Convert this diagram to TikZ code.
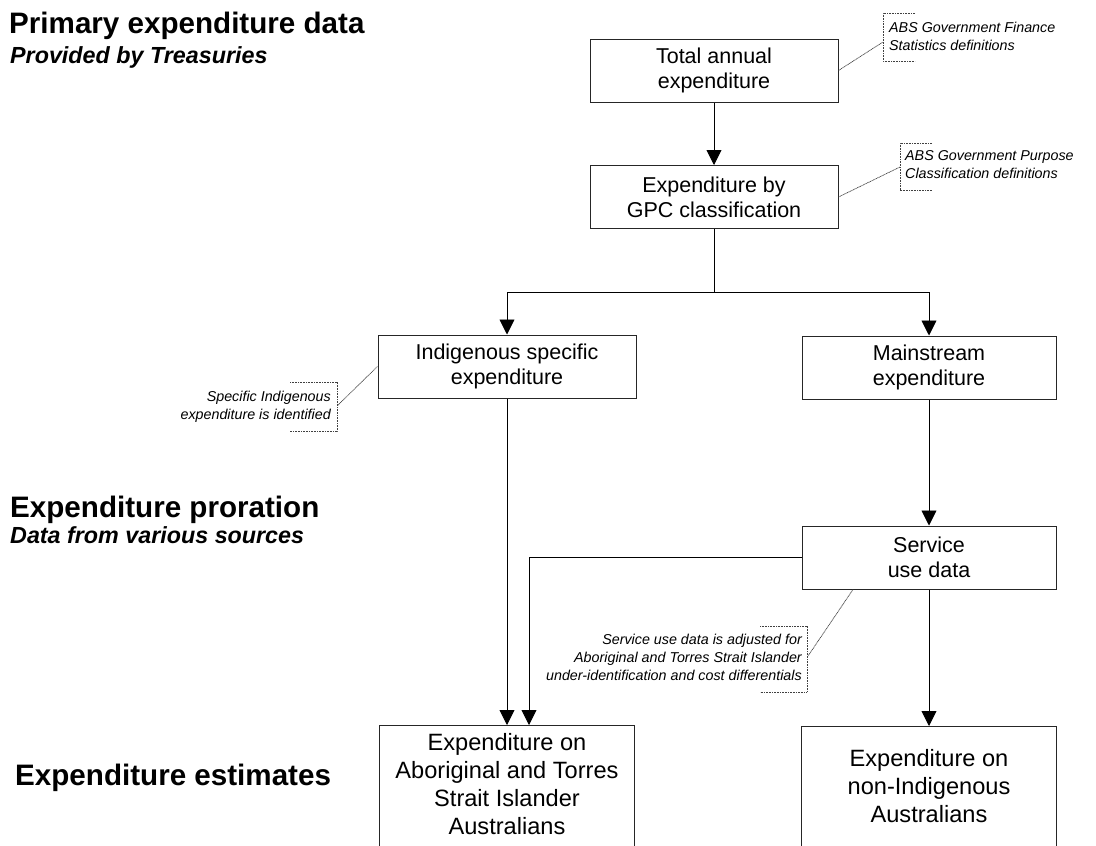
\documentclass[tikz,border=0pt]{standalone}
\usepackage{fontspec}
\setmainfont{Liberation Sans}
\usetikzlibrary{arrows.meta}
\tikzset{
  box/.style={draw=black!85, line width=1pt, inner sep=0pt, align=center},
  topbox/.style={box, minimum width=248pt, minimum height=63pt, font=\fontsize{21.5}{25}\selectfont},
  midbox/.style={box, minimum width=256pt, minimum height=63pt, font=\fontsize{21.5}{25}\selectfont},
  botbox/.style={box, minimum width=255pt, minimum height=160pt, anchor=north},
  bottxt/.style={inner sep=0pt, align=center, font=\fontsize{23.6}{28}\selectfont},
  arr/.style={draw=black, line width=0.9pt, -{Triangle[length=15pt,width=15pt]}},
  plain/.style={draw=black, line width=0.9pt},
  heading/.style={anchor=base west, inner sep=0pt, font=\fontsize{29.6}{34}\selectfont\bfseries},
  subheading/.style={anchor=base west, inner sep=0pt, font=\fontsize{23.3}{27}\selectfont\bfseries\itshape},
  note/.style={inner sep=0pt, font=\fontsize{14.3}{18}\selectfont\itshape},
  brk/.style={draw=black!75, line width=0.8pt, dash pattern=on 0.8pt off 0.8pt},
  lead/.style={draw=black!75, line width=0.7pt, dash pattern=on 1pt off 0.6pt}
}
\begin{document}
\begin{tikzpicture}[x=1pt,y=-1pt]
\useasboundingbox (0,0) rectangle (1096,846);
\clip (0,0) rectangle (1096,846);

% headings
\node[heading] (h1) at (9,33) {Primary expenditure data};
\node[subheading] (h1s) at (10,63) {Provided by Treasuries};
\node[heading] (h2) at (10,517) {Expenditure proration};
\node[subheading] (h2s) at (10,543) {Data from various sources};
\node[heading] (h3) at (15,785) {Expenditure estimates};

% boxes
\node[topbox] (total) at (714,70.5) {Total annual\\expenditure};
\node[topbox] (gpc) at (714,197) {Expenditure by\\GPC classification};
\node[midbox, minimum width=258pt] (indig) at (507,366.5) {Indigenous specific\\expenditure};
\node[midbox, minimum width=254pt] (main) at (929,367.5) {Mainstream\\expenditure};
\node[midbox, minimum width=254pt] (svc) at (929,557.5) {Service\\use data};
\node[botbox] (botL) at (507,725) {};
\node[bottxt] (botLt) at (507,784.5) {Expenditure on\\Aboriginal and Torres\\Strait Islander\\Australians};
\node[botbox] (botR) at (929,726) {};
\node[bottxt] (botRt) at (929,786.5) {Expenditure on\\non-Indigenous\\Australians};

% connectors
\draw[arr] (total.south) -- (gpc.north);
\draw[plain] (gpc.south) -- ++(0,63) coordinate (split);
\draw[arr] (split) -| (indig.north);
\draw[arr] (split) -| (main.north);
\draw[arr] (main.south) -- (svc.north);
\draw[arr] (indig.south) -- (indig.south |- botL.north);
\draw[arr] (svc.west) -| ([xshift=22pt]botL.north);
\draw[arr] (svc.south) -- (botR.north);

% notes
\node[note, anchor=north west, align=left] (n1) at (889,21.6) {ABS Government Finance\\Statistics definitions};
\draw[brk] (915,13) -- (883,13) -- (883,61) -- (915,61);
\coordinate (b1) at (883,42);
\draw[lead] (total.east) -- (b1);

\node[note, anchor=north west, align=left] (n2) at (905,150.6) {ABS Government Purpose\\Classification definitions};
\draw[brk] (932,143) -- (900,143) -- (900,190) -- (932,190);
\coordinate (b2) at (900,167);
\draw[lead] (gpc.east) -- (b2);

\node[note, anchor=north east, align=right] (n3) at (331,390.6) {Specific Indigenous\\expenditure is identified};
\draw[brk] (290,382) -- (337,382) -- (337,431) -- (290,431);
\coordinate (b3) at (338,405);
\draw[lead] (indig.west) -- (b3);

\node[note, anchor=north east, align=right] (n4) at (802,633.6) {Service use data is adjusted for\\Aboriginal and Torres Strait Islander\\under-identification and cost differentials};
\draw[brk] (760,626) -- (807,626) -- (807,692) -- (760,692);
\coordinate (b4) at (808,656);
\draw[lead] ([xshift=-76pt]svc.south) -- (b4);
\end{tikzpicture}
\end{document}
